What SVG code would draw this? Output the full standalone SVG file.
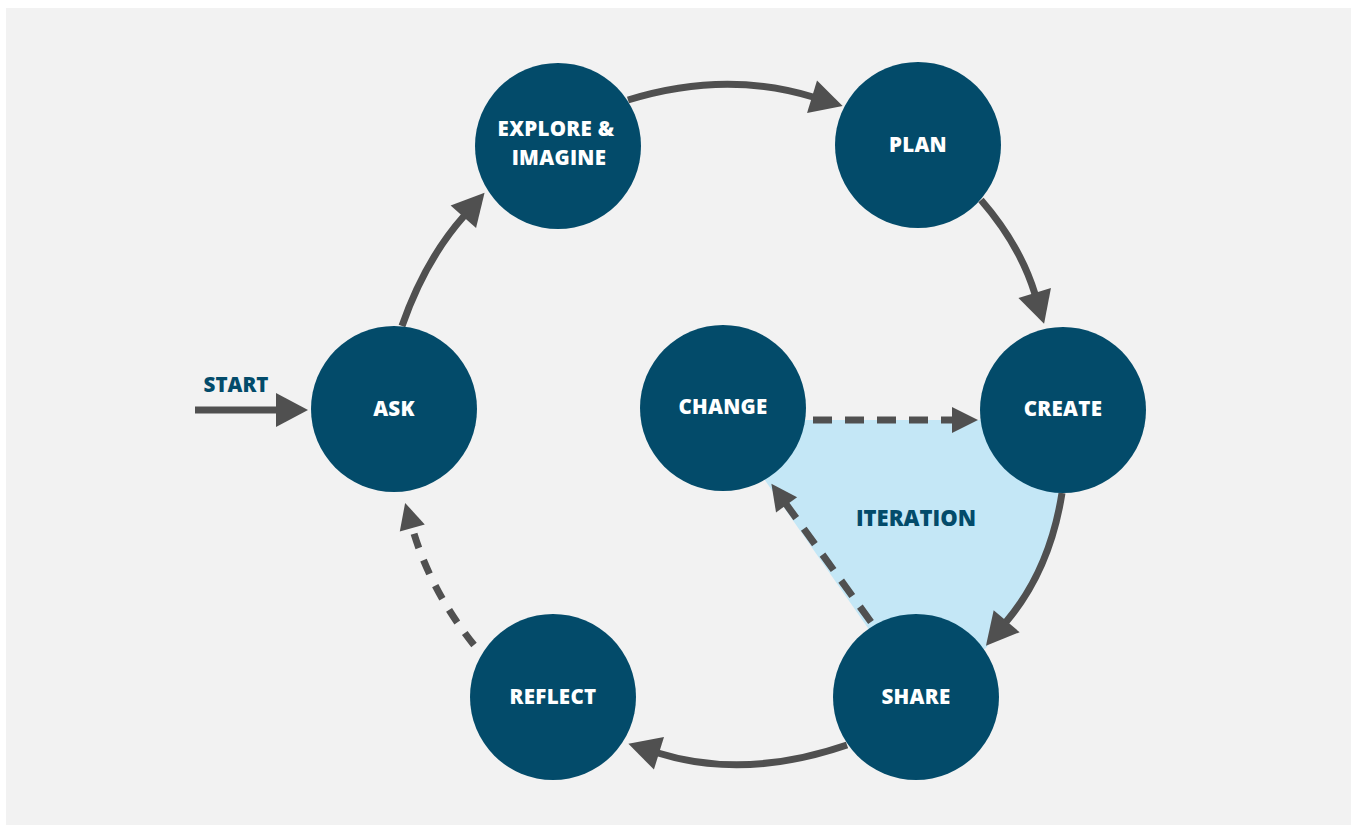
<svg xmlns="http://www.w3.org/2000/svg" width="1351" height="825" viewBox="0 0 1351 825">
  <style>
    .node circle { fill: #034b6a; }
    .node text { fill: #ffffff; font-family: "Open Sans", "Liberation Sans", sans-serif; font-weight: 800; font-size: 20.5px; text-anchor: middle; letter-spacing: 0.3px; }
    .label { fill: #034b6a; font-family: "Open Sans", "Liberation Sans", sans-serif; font-weight: 800; text-anchor: middle; }
    .conn { fill: none; stroke: #505050; stroke-width: 7; }
    .solid { marker-end: url(#head); }
    .dash { stroke-dasharray: 19 13; marker-end: url(#headS); }
  </style>
  <defs>
    <marker id="head" markerUnits="userSpaceOnUse" viewBox="0 -18 33 36" markerWidth="33" markerHeight="36" refX="1" refY="0" orient="auto" overflow="visible">
      <path d="M0,-17 L32,0 L0,17 Z" fill="#505050"/>
    </marker>
    <marker id="headS" markerUnits="userSpaceOnUse" viewBox="0 -14 27 28" markerWidth="27" markerHeight="28" refX="1" refY="0" orient="auto" overflow="visible">
      <path d="M0,-13 L26,0 L0,13 Z" fill="#505050"/>
    </marker>
  </defs>

  <rect x="6" y="8" width="1345" height="817" fill="#f2f2f2"/>

  <g id="iteration-area">
    <path d="M723,420 L1063,420 L1063,493 Q1050,570 1006,622 L986,648 L916,697 Z" fill="#c4e7f6"/>
    <text class="label" x="916" y="526" font-size="22">ITERATION</text>
  </g>

  <g id="connectors">
    <path class="conn solid" d="M195,410 L277,410"/>
    <path class="conn solid" d="M402,326 Q425,260 464,216"/>
    <path class="conn solid" d="M628,100 Q725,70 813,97"/>
    <path class="conn solid" d="M981,200 Q1020,245 1035,294"/>
    <path class="conn solid" d="M1062,493 Q1050,570 1006,622"/>
    <path class="conn solid" d="M847,745 Q745,780 658,753"/>
    <path class="conn dash" d="M474,645 Q430,590 412,527" style="stroke-dasharray:15 13"/>
    <path class="conn dash" d="M813,420 L953,420"/>
    <path class="conn dash" d="M871,622 L786,504"/>
  </g>

  <text id="start-label" class="label" x="236" y="392" font-size="20.5">START</text>

  <g id="ask" class="node">
    <circle cx="394" cy="409" r="83"/>
    <text x="394" y="416">ASK</text>
  </g>
  <g id="explore" class="node">
    <circle cx="558" cy="146" r="83"/>
    <text x="556" y="136">EXPLORE &amp;</text>
    <text x="559" y="165">IMAGINE</text>
  </g>
  <g id="plan" class="node">
    <circle cx="918" cy="145" r="83"/>
    <text x="918" y="152">PLAN</text>
  </g>
  <g id="create" class="node">
    <circle cx="1063" cy="410" r="83"/>
    <text x="1063" y="416">CREATE</text>
  </g>
  <g id="change" class="node">
    <circle cx="723" cy="408" r="83"/>
    <text x="723" y="414">CHANGE</text>
  </g>
  <g id="share" class="node">
    <circle cx="916" cy="697" r="83"/>
    <text x="916" y="704">SHARE</text>
  </g>
  <g id="reflect" class="node">
    <circle cx="553" cy="697" r="83"/>
    <text x="553" y="704">REFLECT</text>
  </g>
</svg>
